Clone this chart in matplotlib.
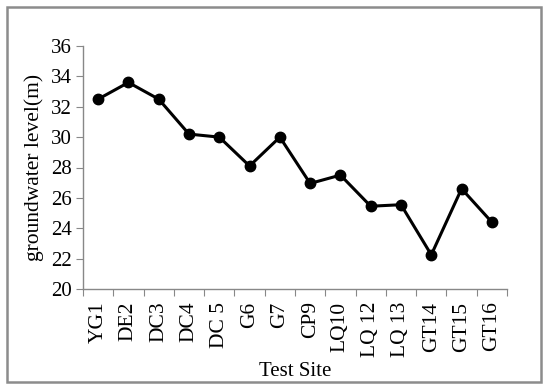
import matplotlib.pyplot as plt
from matplotlib.patches import Rectangle

sites = ['YG1', 'DE2', 'DC3', 'DC4', 'DC 5', 'G6', 'G7', 'CP9',
         'LQ10', 'LQ 12', 'LQ 13', 'GT14', 'GT15', 'GT16']
levels = [32.5, 33.6, 32.5, 30.2, 30.0, 28.1, 30.0, 26.95,
          27.5, 25.45, 25.55, 22.25, 26.6, 24.4]
y_ticks = [20, 22, 24, 26, 28, 30, 32, 34, 36]

plt.rcParams['font.family'] = ['Liberation Serif', 'DejaVu Serif']

fig = plt.figure(figsize=(5.5, 3.92), dpi=100)
ax = fig.add_axes([83/550, 1 - 289/392, (507-83)/550, (289-46)/392])

x = [i + 0.5 for i in range(len(sites))]
ax.plot(x, levels, color='black', linewidth=2.2, marker='o', markersize=7.5)

ax.set_xlim(0, len(sites))
ax.set_ylim(20, 36)
ax.set_yticks(y_ticks)
ax.set_xticks(range(len(sites) + 1))
ax.set_xticklabels([])
ax.set_xticks(x, minor=True)
ax.set_xticklabels(sites, minor=True, rotation=90)
ax.tick_params(axis='x', which='minor', length=0, pad=9, labelsize=15.5)
ax.tick_params(axis='x', which='major', length=5, color='#888888', direction='out')
ax.tick_params(axis='y', length=5, color='#888888', labelsize=15, pad=3)

for side in ['top', 'right']:
    ax.spines[side].set_visible(False)
for side in ['left', 'bottom']:
    ax.spines[side].set_color('#888888')
    ax.spines[side].set_linewidth(1)

ax.set_xlabel('Test Site', fontsize=15, labelpad=4)
ax.set_ylabel('groundwater level(m)', fontsize=15.5, labelpad=5)

# outer frame
fig.patches.append(Rectangle((7/550, 1 - 382/392), (541-7)/550, (382-7)/392,
                             transform=fig.transFigure, fill=False,
                             edgecolor='#8c8c8c', linewidth=1.8))

fig.savefig('out.png', dpi=100)
